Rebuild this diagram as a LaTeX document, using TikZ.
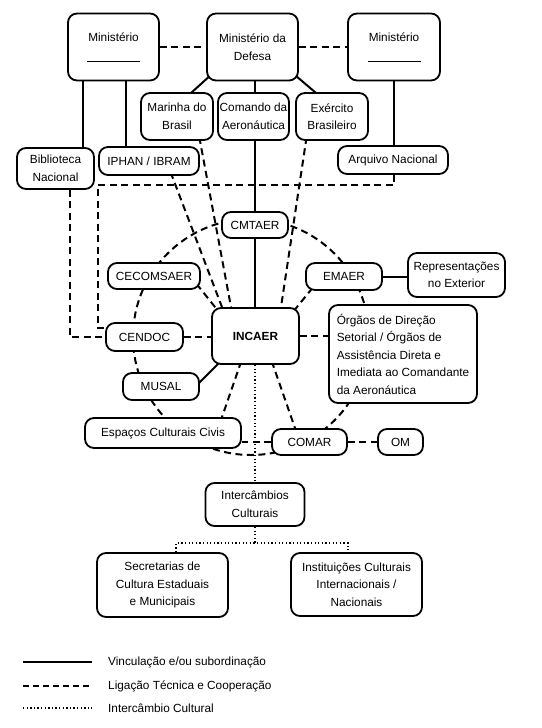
\documentclass[tikz,border=0pt]{standalone}
\usepackage{fontspec}
\setmainfont{Liberation Sans}
\usetikzlibrary{calc,backgrounds}
\begin{document}
\begin{tikzpicture}[x=1pt,y=-1pt,
  box/.style={draw, line width=1.8pt, rounded corners=9pt, fill=white, align=center, inner sep=0pt, font=\fontsize{11.8}{17.5}\selectfont},
  sol/.style={line width=2pt},
  dsh/.style={line width=2pt, dash pattern=on 7pt off 4.5pt},
  dot/.style={line width=1.6pt, dash pattern=on 1.3pt off 2.3pt},
  ext/.style={shorten <=-4pt, shorten >=-4pt},
  lbl/.style={font=\fontsize{11.8}{17.5}\selectfont, anchor=west, inner sep=0pt}]
\useasboundingbox (0,0) rectangle (541,728);

% boxes
\node[box, minimum width=91pt, minimum height=67pt] (minL) at (113.5,47) {Ministério\\[3pt]\rule{53pt}{0.8pt}};
\node[box, minimum width=91pt, minimum height=67pt] (minD) at (252.5,47) {Ministério da\\Defesa};
\node[box, minimum width=92pt, minimum height=67pt] (minR) at (394,47) {Ministério\\[3pt]\rule{53pt}{0.8pt}};
\node[box, minimum width=72pt, minimum height=47pt] (marinha) at (177,116.5) {Marinha do\\Brasil};
\node[box, minimum width=71pt, minimum height=47pt] (comando) at (253.5,116.5) {Comando da\\Aeronáutica};
\node[box, minimum width=72pt, minimum height=47pt] (exercito) at (332,116.5) {Exército\\Brasileiro};
\node[box, minimum width=77pt, minimum height=41pt] (biblio) at (55.5,168.5) {Biblioteca\\Nacional};
\node[box, minimum width=100pt, minimum height=28pt] (iphan) at (149,161) {IPHAN / IBRAM};
\node[box, minimum width=110pt, minimum height=28pt] (arquivo) at (393,160) {Arquivo Nacional};
\node[box, minimum width=66pt, minimum height=26pt] (cmtaer) at (255,225) {CMTAER};
\node[box, minimum width=92pt, minimum height=26pt] (cecomsaer) at (154,276) {CECOMSAER};
\node[box, minimum width=76pt, minimum height=27pt] (emaer) at (344,276.5) {EMAER};
\node[box, minimum width=97pt, minimum height=44pt] (repr) at (456.5,275) {Representações\\no Exterior};
\node[box, minimum width=77pt, minimum height=28pt] (cendoc) at (144.5,337) {CENDOC};
\node[box, minimum width=87pt, minimum height=56pt, font=\fontsize{11.8}{17.5}\selectfont\bfseries] (incaer) at (255.5,336) {INCAER};
\node[box, align=left, minimum width=148pt, minimum height=98pt] (org) at (403,354) {Órgãos de Direção\\Setorial / Órgãos de\\Assistência Direta e\\Imediata ao Comandante\\da Aeronáutica};
\node[box, minimum width=76pt, minimum height=27pt] (musal) at (161,386.5) {MUSAL};
\node[box, minimum width=156pt, minimum height=30pt] (espacos) at (163,433) {Espaços Culturais Civis};
\node[box, minimum width=75pt, minimum height=26pt] (comar) at (309.5,442) {COMAR};
\node[box, minimum width=45pt, minimum height=26pt] (om) at (400.5,442) {OM};
\node[box, minimum width=99pt, minimum height=43pt] (inter) at (255,504.5) {Intercâmbios\\Culturais};
\node[box, minimum width=131pt, minimum height=64pt] (secret) at (162.5,585) {Secretarias de\\Cultura Estaduais\\e Municipais};
\node[box, minimum width=131pt, minimum height=63pt] (instit) at (356.5,584.5) {Instituições Culturais\\Internacionais /\\Nacionais};

\coordinate (ctr) at (251,337);
\coordinate (c1) at (98,185);
\coordinate (t) at (255,543);

\begin{scope}[on background layer]
% circle
\draw[dsh] (ctr) circle[radius=118pt];
% solid
\draw[sol,ext] ($(minD.south west)+(1,-3)$) -- ($(marinha.north)+(15,0)$);
\draw[sol] (comando.north -| cmtaer.north) -- (cmtaer.north |- minD.south);
\draw[sol,ext] ($(minD.south east)+(0,-3)$) -- ($(exercito.north)+(-17,0)$);
\draw[sol] ($(minL.south)+(-30.5,0)$) -- ($(biblio.north)+(27.5,0)$);
\draw[sol] ($(minL.south)+(12.5,0)$) -- ($(iphan.north)+(-23,0)$);
\draw[sol] (minR.south) -- ($(arquivo.north)+(1,0)$);
\draw[sol] (cmtaer.north) -- (cmtaer.north |- comando.south);
\draw[sol] (cmtaer.south) -- (cmtaer.south |- incaer.north);
\draw[sol] (emaer.east) -- (emaer.east -| repr.west);
\draw[sol,ext] ($(musal.east)+(0,-4.5)$) -- ($(incaer.south west)+(6,0)$);
% dashed
\draw[dsh] (minL.east) -- (minD.west);
\draw[dsh] (minD.east) -- (minR.west);
\draw[dsh] ($(arquivo.south)+(1,0)$) |- (c1) |- ($(cendoc.west)+(0,-9)$);
\draw[dsh] ($(biblio.south)+(14.5,0)$) |- (cendoc.west);
\draw[dsh,ext] ($(iphan.south)+(23,0)$) -- ($(incaer.north)+(-33.5,0)$);
\draw[dsh,ext] ($(marinha.south)+(23,0)$) -- ($(incaer.north)+(-24.5,0)$);
\draw[dsh,ext] ($(cecomsaer.south east)+(-2,-3)$) -- ($(incaer.north west)+(4,0)$);
\draw[dsh,ext] ($(exercito.south)+(-26,0)$) -- ($(incaer.north)+(25.5,0)$);
\draw[dsh,ext] ($(emaer.south west)+(5,0)$) -- ($(incaer.north east)+(-3,0)$);
\draw[dsh] (cendoc.east) -- (cendoc.east -| incaer.west);
\draw[dsh] (incaer.east) -- (incaer.east -| org.west);
\draw[dsh,ext] ($(incaer.south)+(-15.5,0)$) -- ($(espacos.north)+(59,0)$);
\draw[dsh,ext] ($(incaer.south)+(17.5,0)$) -- ($(comar.north)+(-14.5,0)$);
\draw[dsh] (comar.west) -- (comar.west -| espacos.east);
\draw[dsh] (comar.east) -- (om.west);
% dotted
\draw[dot] (incaer.south -| inter.north) -- (inter.north);
\draw[dot] (inter.south) -- (t);
\draw[dot] ($(secret.north)+(13.5,0)$) |- (t) -| ($(instit.north)+(-8.5,0)$);
\end{scope}

% legend
\coordinate (l1a) at (23,662); \coordinate (l1b) at (92,662);
\coordinate (l2a) at (23,686); \coordinate (l2b) at (92,686);
\coordinate (l3a) at (23,708); \coordinate (l3b) at (92,708);
\draw[sol] (l1a) -- (l1b);
\draw[line width=2pt, dash pattern=on 6pt off 4pt] (l2a) -- (l2b);
\draw[dot] (l3a) -- (l3b);
\node[lbl] (t1) at (108,662) {Vinculação e/ou subordinação};
\node[lbl] (t2) at (108,686) {Ligação Técnica e Cooperação};
\node[lbl] (t3) at (108,708) {Intercâmbio Cultural};
\end{tikzpicture}
\end{document}
